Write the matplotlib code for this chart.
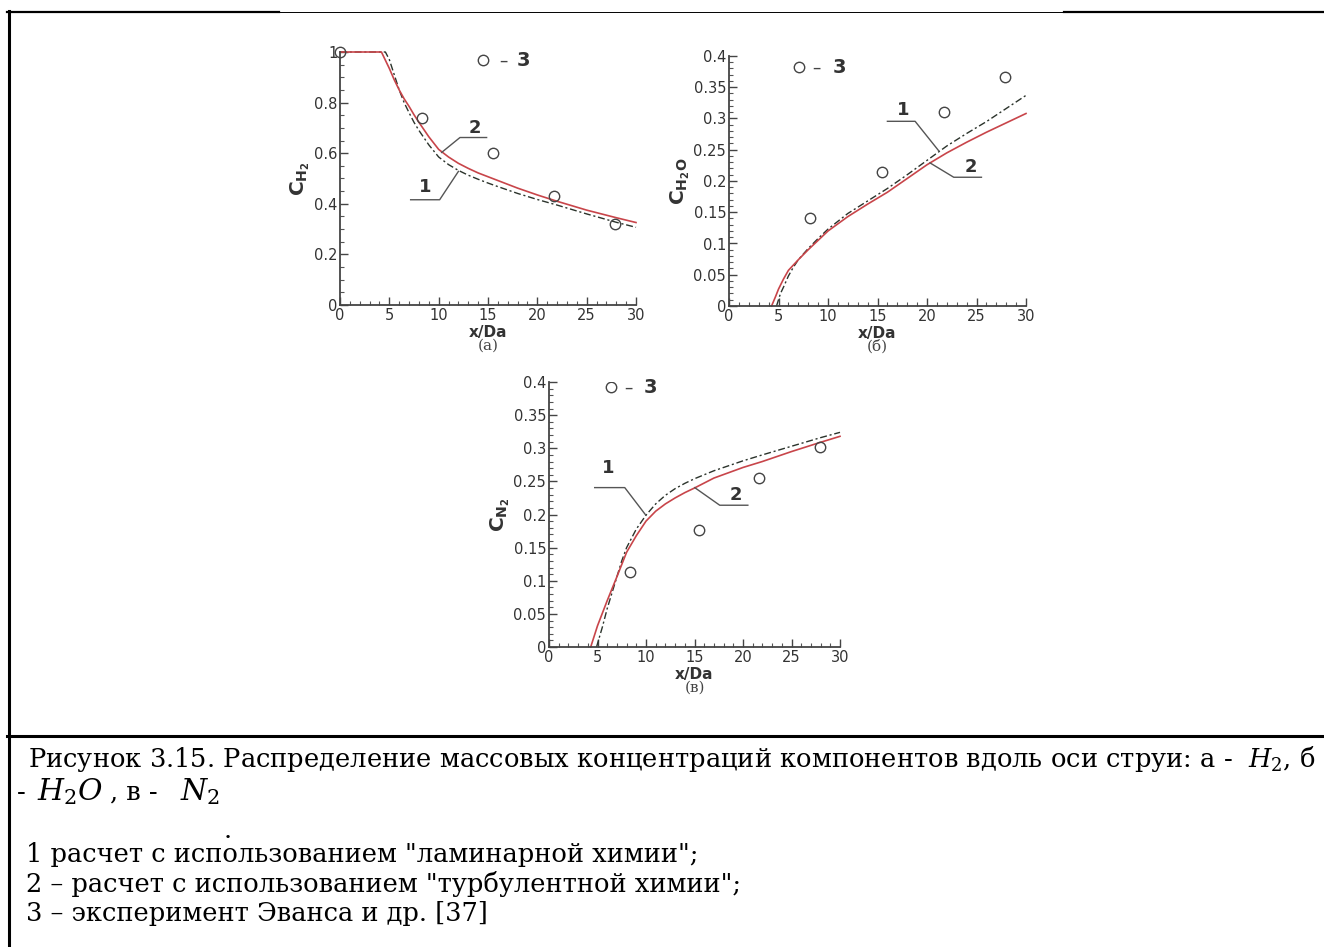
import matplotlib
matplotlib.use('Agg')
import matplotlib.pyplot as plt
from matplotlib.lines import Line2D
from matplotlib.ticker import MultipleLocator, FuncFormatter

plt.rcParams['font.family'] = ['DejaVu Sans']
plt.rcParams['mathtext.fontset'] = 'custom'
plt.rcParams['mathtext.rm'] = 'DejaVu Serif'
plt.rcParams['mathtext.it'] = 'DejaVu Serif:italic'
plt.rcParams['mathtext.bf'] = 'DejaVu Sans:bold'

# ---- data ----
# (a) H2
a_lam_x = [0, 4.6, 5, 5.5, 6, 6.5, 7, 7.5, 8, 9, 10, 11, 12, 13, 14, 15, 16, 18, 20, 22, 25, 28, 30]
a_lam_y = [1, 1, 0.97, 0.91, 0.85, 0.80, 0.76, 0.722, 0.69, 0.633, 0.585, 0.555, 0.532, 0.513,
           0.497, 0.482, 0.468, 0.441, 0.417, 0.395, 0.36, 0.327, 0.307]
a_turb_x = [0, 4.2, 5, 5.5, 6, 6.5, 7, 7.5, 8, 9, 10, 11, 12, 13, 14, 16, 18, 20, 22, 25, 28, 30]
a_turb_y = [1, 1, 0.935, 0.89, 0.85, 0.815, 0.785, 0.752, 0.722, 0.665, 0.615, 0.585, 0.56,
            0.54, 0.522, 0.492, 0.462, 0.435, 0.41, 0.375, 0.345, 0.326]
a_exp_x = [0, 8.3, 15.5, 21.7, 27.9]
a_exp_y = [1.0, 0.74, 0.60, 0.43, 0.32]

# (б) H2O
b_lam_x = [4.8, 5.2, 5.5, 6, 6.5, 7, 8, 9, 10, 12, 14, 16, 18, 20, 22, 24, 26, 28, 30]
b_lam_y = [0, 0.02, 0.03, 0.048, 0.062, 0.074, 0.092, 0.108, 0.123, 0.148, 0.168, 0.188,
           0.21, 0.233, 0.256, 0.276, 0.295, 0.316, 0.337]
b_turb_x = [4.3, 4.7, 5, 5.5, 6, 7, 8, 9, 10, 12, 14, 16, 18, 20, 22, 24, 26, 28, 30]
b_turb_y = [0, 0.015, 0.027, 0.043, 0.057, 0.074, 0.09, 0.105, 0.12, 0.143, 0.163, 0.182,
            0.204, 0.226, 0.245, 0.262, 0.278, 0.293, 0.308]
b_exp_x = [8.2, 15.5, 21.7, 27.9]
b_exp_y = [0.14, 0.214, 0.31, 0.367]

# (в) N2
c_lam_x = [4.9, 5.5, 6, 6.5, 7, 7.5, 8, 9, 10, 11, 12, 13, 14, 15, 17, 20, 22, 25, 28, 30]
c_lam_y = [0, 0.03, 0.058, 0.082, 0.106, 0.13, 0.15, 0.178, 0.199, 0.216, 0.229, 0.239,
           0.247, 0.254, 0.266, 0.281, 0.29, 0.303, 0.316, 0.324]
c_turb_x = [4.3, 5, 6, 7, 8, 9, 10, 11, 12, 13, 14, 15, 17, 20, 22, 25, 28, 30]
c_turb_y = [0, 0.032, 0.07, 0.106, 0.143, 0.168, 0.19, 0.205, 0.216, 0.225, 0.233, 0.24,
            0.255, 0.271, 0.28, 0.295, 0.309, 0.318]
c_exp_x = [8.3, 15.5, 21.7, 27.9]
c_exp_y = [0.1135, 0.1765, 0.255, 0.3026]

# caption text
cap_title = ('Рисунок 3.15. Распределение массовых концентраций компонентов вдоль оси струи: '
             'а -  $H_2$, б')
cap_lines = ['1 расчет с использованием "ламинарной химии";',
             '2 – расчет с использованием "турбулентной химии";',
             '3 – эксперимент Эванса и др. [37]']

W, H = 1324, 947
fig = plt.figure(figsize=(W / 100, H / 100), dpi=100)
fig.patch.set_facecolor('white')


def px_axes(x0, x1, y0, y1):
    # axes box from pixel corners (x0..x1 left/right, y0 top, y1 bottom)
    return fig.add_axes([x0 / W, 1 - y1 / H, (x1 - x0) / W, (y1 - y0) / H])


def setup(ax, ymax, ymaj, ymin, ylabel, sub):
    ax.set_xlim(0, 30)
    ax.set_ylim(0, ymax)
    for s in ['top', 'right']:
        ax.spines[s].set_visible(False)
    for s in ['left', 'bottom']:
        ax.spines[s].set_color('#444444')
        ax.spines[s].set_linewidth(1.3)
    ax.xaxis.set_major_locator(MultipleLocator(5))
    ax.xaxis.set_minor_locator(MultipleLocator(1))
    ax.yaxis.set_major_locator(MultipleLocator(ymaj))
    ax.yaxis.set_minor_locator(MultipleLocator(ymin))
    fmt = FuncFormatter(lambda v, p: '%g' % round(v, 3))
    ax.xaxis.set_major_formatter(fmt)
    ax.yaxis.set_major_formatter(fmt)
    ax.tick_params(which='major', direction='in', length=6, width=1, color='#444444',
                   labelsize=10.5, labelcolor='#333333', pad=2)
    ax.tick_params(which='minor', direction='in', length=3, width=0.8, color='#555555')
    ax.set_ylabel(ylabel, fontsize=14.5, color='#333333', labelpad=1)
    ax.annotate('x/Da', xy=(0.5, 0), xycoords='axes fraction', xytext=(0, -20),
                textcoords='offset points', ha='center', va='center',
                fontsize=11, fontweight='bold', color='#333333')
    ax.annotate(sub, xy=(0.5, 0), xycoords='axes fraction', xytext=(0, -29.5),
                textcoords='offset points', ha='center', va='center',
                fontsize=11, family='DejaVu Serif', color='#444444')


def curves(ax, lx, ly, tx, ty, ex, ey):
    ax.plot(lx, ly, color='#2b332b', lw=1.0, dashes=(5, 2, 1.5, 2), clip_on=False)
    ax.plot(tx, ty, color='#c8454a', lw=1.2, clip_on=False)
    ax.plot(ex, ey, 'o', ms=7.5, mfc='none', mec='#444444', mew=1.0, clip_on=False)


def legend3(ax, x, y, dx1, dx2):
    ax.plot([x], [y], 'o', ms=7.5, mfc='none', mec='#444444', mew=1.0)
    ax.text(x + dx1, y, '–', ha='center', va='center', fontsize=12, color='#444444')
    ax.text(x + dx2, y, '3', ha='center', va='center', fontsize=14,
            fontweight='bold', color='#333333')


def leader(ax, label, lab_xy, pts):
    ax.plot([p[0] for p in pts], [p[1] for p in pts], color='#555555', lw=1.0)
    ax.text(lab_xy[0], lab_xy[1], label, ha='center', va='center', fontsize=13,
            fontweight='bold', color='#333333')


# panel (a)
ax_a = px_axes(340, 636, 52, 305)
setup(ax_a, 1, 0.2, 0.05, r'$\mathbf{C_{H_2}}$', '(a)')
curves(ax_a, a_lam_x, a_lam_y, a_turb_x, a_turb_y, a_exp_x, a_exp_y)
legend3(ax_a, 14.5, 0.967, 2.1, 4.1)
leader(ax_a, '2', (13.7, 0.70), [(14.86, 0.662), (12.16, 0.662), (10.3, 0.603)])
leader(ax_a, '1', (8.6, 0.468), [(7.16, 0.416), (10.1, 0.416), (12.0, 0.528)])

# panel (б)
ax_b = px_axes(729, 1026, 56, 306)
setup(ax_b, 0.4, 0.05, 0.01, r'$\mathbf{C_{H_2O}}$', '(б)')
curves(ax_b, b_lam_x, b_lam_y, b_turb_x, b_turb_y, b_exp_x, b_exp_y)
legend3(ax_b, 7.09, 0.382, 1.75, 4.1)
leader(ax_b, '1', (17.6, 0.313), [(16.0, 0.2955), (18.8, 0.2955), (21.2, 0.248)])
leader(ax_b, '2', (24.4, 0.222), [(25.5, 0.206), (22.7, 0.206), (20.3, 0.229)])

# panel (в)
ax_c = px_axes(549, 840, 382, 647)
setup(ax_c, 0.4, 0.05, 0.01, r'$\mathbf{C_{N_2}}$', '(в)')
curves(ax_c, c_lam_x, c_lam_y, c_turb_x, c_turb_y, c_exp_x, c_exp_y)
legend3(ax_c, 6.43, 0.392, 1.75, 4.0)
leader(ax_c, '1', (6.1, 0.27), [(4.71, 0.2406), (7.81, 0.2406), (9.98, 0.199)])
leader(ax_c, '2', (19.3, 0.23), [(20.5, 0.214), (17.6, 0.214), (15.03, 0.2405)])

# table-like frame lines
def hline(x0, x1, y, lw):
    fig.add_artist(Line2D([x0 / W, x1 / W], [1 - y / H, 1 - y / H], color='black',
                          lw=lw, transform=fig.transFigure))

fig.add_artist(Line2D([8.5 / W, 8.5 / W], [0, 1 - 11 / H], color='black', lw=2.2,
                      transform=fig.transFigure))
hline(7, 279, 12, 1.6)
hline(279, 1064, 12, 0.7)
hline(1064, W, 12, 1.6)
hline(7, W, 735.5, 2.2)

# caption
cap = dict(family='DejaVu Serif', fontsize=18.5, color='black', ha='left',
           va='baseline')
eq = dict(cap, fontsize=21.5)
fig.text(28 / W, 1 - 767 / H, cap_title, **cap)
fig.text(17 / W, 1 - 800 / H, '-', **cap)
fig.text(37 / W, 1 - 800 / H, '$H_2O$', **eq)
fig.text(110 / W, 1 - 800 / H, ', в -', **cap)
fig.text(180 / W, 1 - 800 / H, '$N_2$', **eq)
fig.text(224 / W, 1 - 838 / H, '.', **cap)

for i, line in enumerate(cap_lines):
    fig.text(26 / W, 1 - (862 + 29.5 * i) / H, line, **cap)

fig.savefig('out.png', dpi=100, facecolor='white')
